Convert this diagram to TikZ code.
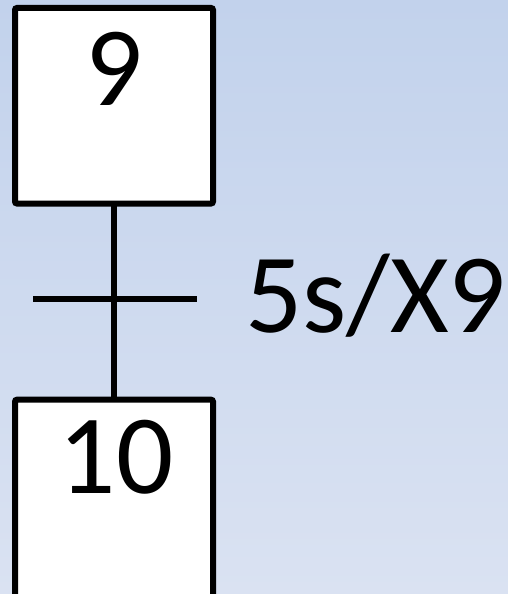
\documentclass[tikz,border=0pt]{standalone}
\usepackage{fontspec}
\setmainfont{Carlito}
\definecolor{bgtop}{RGB}{194,210,236}
\definecolor{bgbot}{RGB}{218,226,242}
\tikzset{
  stepbox/.style={draw=black, fill=white, line width=6pt, rounded corners=2pt,
    minimum width=198pt, inner sep=0pt, outer sep=0pt},
  bigtext/.style={font=\fontsize{113}{113}\selectfont, inner sep=0pt, text=black},
  link/.style={line width=6pt, draw=black}
}
\begin{document}
\begin{tikzpicture}[x=1pt,y=-1pt]
\useasboundingbox (0,0) rectangle (508,594);
\clip (0,0) rectangle (508,594);
\shade[top color=bgtop, bottom color=bgbot] (0,0) rectangle (508,594);
\coordinate (tl) at (33,299);
\coordinate (tr) at (197,299);
\node[stepbox, minimum height=195.5pt] (s9) at (114,105.75) {};
\node[stepbox, minimum height=240pt] (s10) at (114,519.7) {};
\draw[link] (s9.south) -- (s10.north);
\draw[link] (tl) -- (tr);
\node[bigtext, anchor=base] (l9) at (114,105) {9};
\node[bigtext, anchor=base] (l10) at (116,493) {10};
\node[bigtext, anchor=base west] (cond) at (245,332) {5s/X9};
\end{tikzpicture}
\end{document}
